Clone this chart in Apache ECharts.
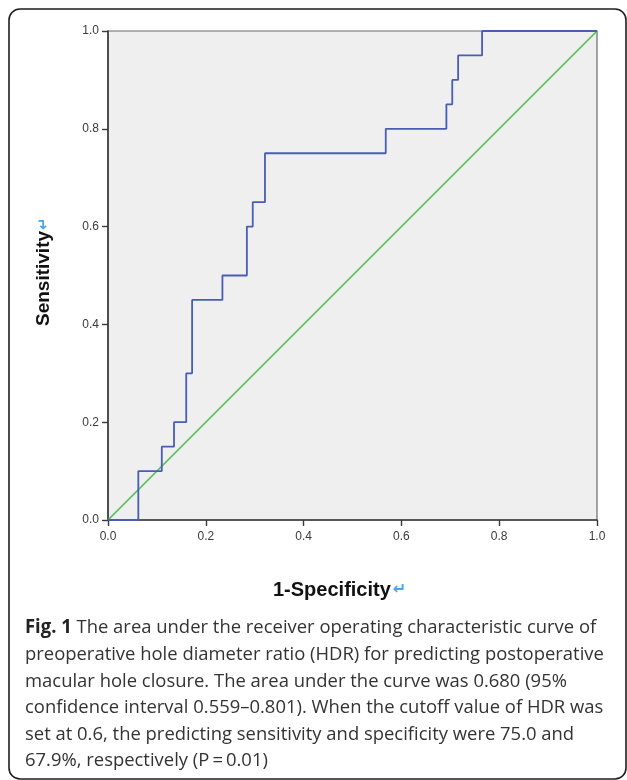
<!DOCTYPE html>
<html>
<head>
<meta charset="utf-8">
<script src="https://cdn.jsdelivr.net/npm/echarts@6/dist/echarts.min.js"></script>
<style>
  html, body { margin: 0; padding: 0; background: #fff; }
  #chart { width: 627px; height: 780px; }
</style>
</head>
<body>
<div id="chart"></div>
<script>
// ROC points: 1-specificity vs sensitivity
const fpr = [0, 0.062, 0.110, 0.135, 0.160, 0.172, 0.234, 0.284, 0.296, 0.321, 0.568, 0.692, 0.704, 0.716, 0.765, 1.0];
const tpr = [0, 0.10, 0.15, 0.20, 0.30, 0.45, 0.50, 0.60, 0.65, 0.75, 0.80, 0.85, 0.90, 0.95, 1.0, 1.0];
const refLine = [[0, 0], [1, 1]];
const tickLabels = ["0.0", "0.2", "0.4", "0.6", "0.8", "1.0"];

const captionLines = [
  "The area under the receiver operating characteristic curve of",
  "preoperative hole diameter ratio (HDR) for predicting postoperative",
  "macular hole closure. The area under the curve was 0.680 (95%",
  "confidence interval 0.559\u20130.801). When the cutoff value of HDR was",
  "set at 0.6, the predicting sensitivity and specificity were 75.0 and",
  "67.9%, respectively (P\u2009=\u20090.01)"
];

const rocData = fpr.map((x, i) => [x, tpr[i]]);
const captionFont = '"Open Sans", sans-serif';
const captionScale = 0.97;

const chart = echarts.init(document.getElementById("chart"));

let graphics = [
  {
    type: "rect",
    shape: { x: 9, y: 9, width: 617, height: 770, r: 11 },
    style: { fill: null, stroke: "#1e1e1e", lineWidth: 1.6 },
    silent: true
  },
  {
    type: "text",
    x: 273,
    y: 590,
    style: {
      text: "{t|1-Specificity}{m|\u21b5}",
      verticalAlign: "middle",
      rich: {
        t: { fontFamily: "Liberation Sans", fontWeight: "bold", fontSize: 20, fill: "#111" },
        m: { fontFamily: "DejaVu Sans", fontWeight: "bold", fontSize: 16, fill: "#4aa3ee", padding: [0, 0, 0, 2] }
      }
    }
  },
  {
    type: "text",
    x: 44,
    y: 326,
    rotation: Math.PI / 2,
    style: {
      text: "{t|Sensitivity}{m|\u21b5}",
      verticalAlign: "middle",
      rich: {
        t: { fontFamily: "Liberation Sans", fontWeight: "bold", fontSize: 19, fill: "#111" },
        m: { fontFamily: "DejaVu Sans", fontWeight: "bold", fontSize: 15, fill: "#4aa3ee", padding: [0, 0, 0, 1] }
      }
    }
  }
];

captionLines.forEach((line, i) => {
  graphics.push({
    type: "text",
    x: 25,
    y: 628 + i * 26.6,
    scaleX: captionScale,
    style: {
      text: i === 0 ? "{b|Fig. 1} " + line : line,
      fontFamily: captionFont,
      fontSize: 19,
      fill: "#333",
      verticalAlign: "middle",
      rich: {
        b: { fontFamily: captionFont, fontWeight: "bold", fontSize: 19, fill: "#222" }
      }
    }
  });
});

const axisCommon = {
  type: "value",
  min: 0,
  max: 1,
  interval: 0.2,
  splitLine: { show: false },
  axisLine: { show: true, lineStyle: { color: "#3a3a3a", width: 1.6 } },
  axisTick: { show: true, length: 6, lineStyle: { color: "#3a3a3a", width: 1.4 } },
  axisLabel: {
    fontFamily: "Liberation Sans",
    fontSize: 12,
    color: "#3a3a3a",
    formatter: (v) => tickLabels[Math.round(v / 0.2)]
  }
};

chart.setOption({
  animation: false,
  grid: {
    left: 108,
    right: 30,
    top: 31,
    bottom: 260,
    show: true,
    backgroundColor: "#efefef",
    borderColor: "#6a6a6a",
    borderWidth: 1.2
  },
  xAxis: Object.assign({}, axisCommon, {
    axisLabel: Object.assign({}, axisCommon.axisLabel, { margin: 11 })
  }),
  yAxis: Object.assign({}, axisCommon, {
    axisLabel: Object.assign({}, axisCommon.axisLabel, { margin: 9 })
  }),
  graphic: graphics,
  series: [
    {
      type: "line",
      data: refLine,
      showSymbol: false,
      lineStyle: { color: "#55c05a", width: 1.7 },
      z: 2
    },
    {
      type: "line",
      data: rocData,
      step: "end",
      showSymbol: false,
      lineStyle: { color: "#4a5db5", width: 1.8 },
      z: 3
    }
  ]
});
</script>
</body>
</html>
